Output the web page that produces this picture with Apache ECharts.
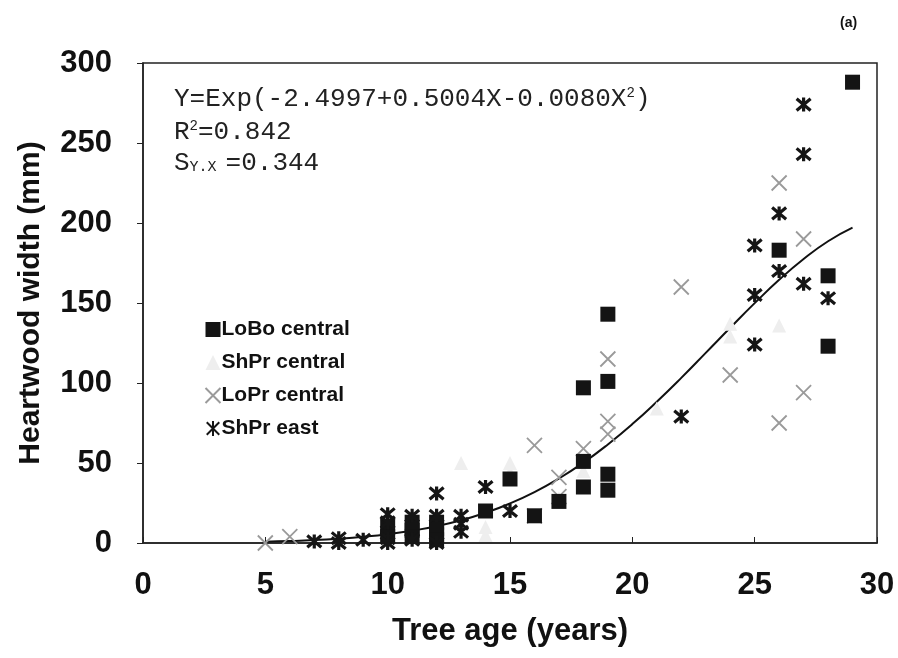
<!DOCTYPE html>
<html>
<head>
<meta charset="utf-8">
<script src="https://cdn.jsdelivr.net/npm/echarts@6/dist/echarts.min.js"></script>
<style>
  html, body { margin: 0; padding: 0; background: #fff; }
  #chart { width: 898px; height: 658px; }
</style>
</head>
<body>
<div id="chart"></div>
<script>
// [age, heartwood width (mm)]
const loboCentral = [
  [10, 10], [10, 4], [11, 13], [11, 8], [11, 4], [12, 13], [12, 9], [12, 5], [12, 2],
  [14, 20], [15, 40], [16, 17], [17, 26], [18, 97], [18, 51], [18, 35],
  [19, 143], [19, 101], [19, 43], [19, 33], [26, 183], [28, 167], [28, 123], [29, 288]
]
const shprCentral = [
  [10, 7], [12, 4], [13, 50], [14, 10], [14, 5], [15, 50], [15, 44], [17, 28],
  [18, 45], [21, 84], [24, 137], [24, 129], [26, 136]
]
const loprCentral = [
  [5, 0], [6, 4], [16, 17], [16, 61], [17, 41], [17, 29], [18, 59], [19, 115], [19, 76],
  [19, 68], [22, 160], [24, 105], [26, 225], [26, 75], [27, 190], [27, 94]
]
const shprEast = [
  [7, 1], [8, 3], [8, 0], [9, 2], [10, 18], [10, 13], [10, 3], [10, 0], [11, 17], [11, 2],
  [12, 31], [12, 17], [12, 0], [13, 17], [13, 12], [13, 7], [14, 35], [15, 20], [22, 79],
  [25, 186], [25, 155], [25, 124], [26, 206], [26, 170], [27, 274], [27, 243], [27, 162], [28, 153]
]
// fitted curve
const fitAges = [5, 6, 7, 8, 9, 10, 11, 12, 13, 14, 15, 16, 17, 18, 19, 20, 21, 22, 23, 24, 25, 26, 27, 28, 29]
const fitValues = [0.8, 1.2, 1.8, 2.7, 3.9, 5.5, 7.7, 10.5, 14.2, 18.9, 24.7, 31.8, 40.3, 50.2,
  61.6, 74.3, 88.3, 103.2, 118.8, 134.5, 149.9, 164.5, 177.5, 188.6, 197.1]

const xTicks = [0, 5, 10, 15, 20, 25, 30]
const yTicks = [0, 50, 100, 150, 200, 250, 300]

const font = 'Liberation Sans, Arial, sans-serif'
const mono = 'Liberation Mono, monospace'
const crossPath = 'path://M0,0L10,10M10,0L0,10'
const starPath = 'path://M0,0L10,10M10,0L0,10M5,-1L5,11'

const chart = echarts.init(document.getElementById('chart'))

const option = {
  animation: false,
  backgroundColor: '#fff',
  grid: {
    left: 143, right: 21, top: 63, bottom: 115,
    show: true, borderColor: '#222', borderWidth: 1.5
  },
  xAxis: {
    type: 'value',
    min: xTicks[0], max: xTicks[xTicks.length - 1], interval: 5,
    name: 'Tree age (years)',
    nameLocation: 'middle',
    nameGap: 73,
    nameTextStyle: { fontFamily: font, fontWeight: 'bold', fontSize: 31, color: '#111' },
    axisLine: { lineStyle: { color: '#222', width: 1.5 } },
    axisTick: { inside: true, length: 6, lineStyle: { color: '#222' } },
    axisLabel: { fontFamily: font, fontWeight: 'bold', fontSize: 31, color: '#111', margin: 27 },
    splitLine: { show: false }
  },
  yAxis: {
    type: 'value',
    min: yTicks[0], max: yTicks[yTicks.length - 1], interval: 50,
    name: 'Heartwood width (mm)',
    nameLocation: 'middle',
    nameRotate: 90,
    nameGap: 97,
    nameTextStyle: { fontFamily: font, fontWeight: 'bold', fontSize: 30, color: '#111' },
    axisLine: { show: true, lineStyle: { color: '#222', width: 1.5 } },
    axisTick: { show: true, length: 6, lineStyle: { color: '#222' } },
    axisLabel: { fontFamily: font, fontWeight: 'bold', fontSize: 31, color: '#111', margin: 31 },
    splitLine: { show: false }
  },
  legend: {
    orient: 'vertical',
    left: 198,
    top: 314,
    itemGap: 12,
    itemWidth: 15,
    itemHeight: 15,
    textStyle: { fontFamily: font, fontWeight: 'bold', fontSize: 21, color: '#111', padding: [0, 0, 0, -4] },
    data: ['LoBo central', 'ShPr central', 'LoPr central', 'ShPr east']
  },
  graphic: [
    {
      type: 'text', left: 174, top: 86,
      style: {
        rich: {
          t: { fontFamily: mono, fontSize: 26, fill: '#222' },
          sup: { fontFamily: mono, fontSize: 14, fill: '#222', padding: [0, 0, 12, 0] }
        },
        text: '{t|Y=Exp(-2.4997+0.5004X-0.0080X}{sup|2}{t|)}'
      }
    },
    {
      type: 'text', left: 174, top: 119,
      style: {
        rich: {
          t: { fontFamily: mono, fontSize: 26, fill: '#222' },
          sup: { fontFamily: mono, fontSize: 14, fill: '#222', padding: [0, 0, 12, 0] }
        },
        text: '{t|R}{sup|2}{t|=0.842}'
      }
    },
    {
      type: 'text', left: 174, top: 150,
      style: {
        rich: {
          t: { fontFamily: mono, fontSize: 26, fill: '#222' },
          sub: { fontFamily: mono, fontSize: 15, fill: '#222', padding: [8, 0, 0, 0] }
        },
        text: '{t|S}{sub|Y.X }{t|=0.344}'
      }
    },
    {
      type: 'text', left: 840, top: 16,
      style: { text: '(a)', fontFamily: font, fontWeight: 'bold', fontSize: 14, fill: '#111' }
    }
  ],
  series: [
    {
      name: 'Fit',
      type: 'line',
      data: fitAges.map((a, i) => [a, fitValues[i]]),
      smooth: true,
      showSymbol: false,
      lineStyle: { color: '#111', width: 2 },
      z: 1
    },
    {
      name: 'ShPr central',
      type: 'scatter',
      data: shprCentral,
      symbol: 'triangle',
      symbolSize: 14,
      itemStyle: { color: '#eeeeee', opacity: 1 },
      z: 2
    },
    {
      name: 'LoPr central',
      type: 'scatter',
      data: loprCentral,
      symbol: crossPath,
      symbolSize: 15,
      itemStyle: { color: 'none', borderColor: '#9a9a9a', borderWidth: 1.8, opacity: 1 },
      z: 3
    },
    {
      name: 'LoBo central',
      type: 'scatter',
      data: loboCentral,
      symbol: 'rect',
      symbolSize: 15,
      itemStyle: { color: '#141414', opacity: 1 },
      z: 4
    },
    {
      name: 'ShPr east',
      type: 'scatter',
      data: shprEast,
      symbol: starPath,
      symbolSize: 14,
      itemStyle: { color: 'none', borderColor: '#151515', borderWidth: 3.2, opacity: 1 },
      z: 5
    }
  ]
}

chart.setOption(option)
</script>
</body>
</html>
